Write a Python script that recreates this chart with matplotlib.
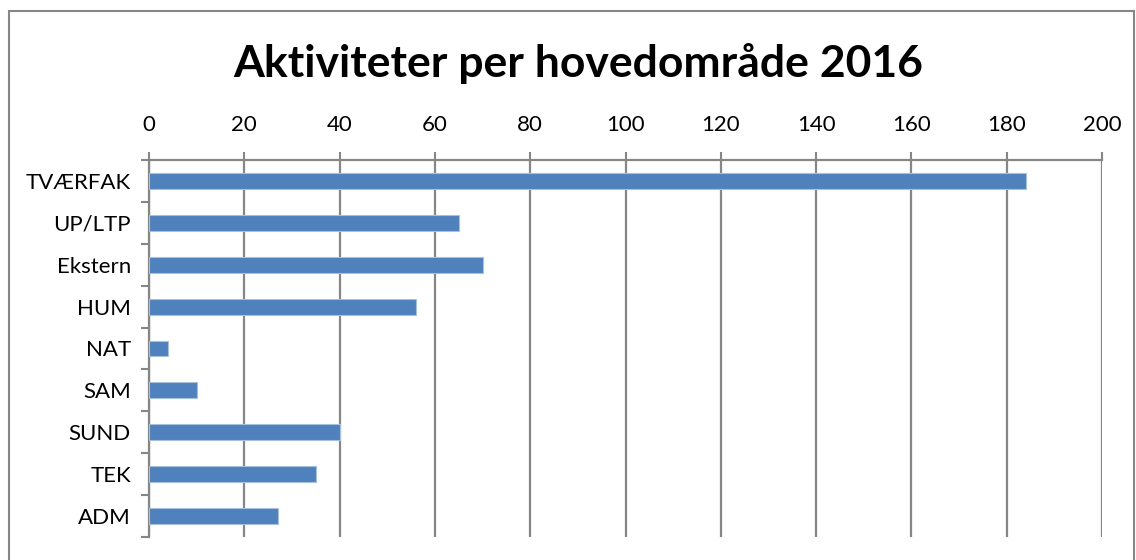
import numpy as np
import matplotlib.pyplot as plt
from matplotlib.patches import Rectangle

categories = ["TVÆRFAK", "UP/LTP", "Ekstern", "HUM", "NAT", "SAM", "SUND", "TEK", "ADM"]
values = [184, 65, 70, 56, 4, 10, 40, 35, 27]
xticks = [0, 20, 40, 60, 80, 100, 120, 140, 160, 180, 200]

plt.rcParams['font.family'] = ['Lato', 'DejaVu Sans']
grey = "#868686"

fig = plt.figure(figsize=(11.36, 5.6), dpi=100)
ax = fig.add_axes([149/1136, 1-537/560, (1102-149)/1136, (537-160)/560])

y = np.arange(len(categories))
ax.barh(y, values, height=0.38, color="#4F81BD", edgecolor="#A7C0DE", linewidth=0.8, zorder=3)
ax.set_ylim(len(categories)-0.5, -0.5)
ax.set_xlim(0, 200)

ax.xaxis.tick_top()
ax.set_xticks(xticks)
ax.set_xticklabels([str(t) for t in xticks], fontsize=16)
ax.tick_params(axis="x", length=6, width=1.5, color=grey, pad=12)
ax.grid(axis="x", color=grey, linewidth=1.6, zorder=0)

ax.set_yticks(y)
ax.set_yticklabels(categories, fontsize=16)
ax.set_yticks(np.arange(len(categories)+1)-0.5, minor=True)
ax.tick_params(axis="y", which="major", length=0, pad=13)
ax.tick_params(axis="y", which="minor", length=6, width=1.5, color=grey)

for s in ["right", "bottom"]:
    ax.spines[s].set_visible(False)
for s in ["top", "left"]:
    ax.spines[s].set_color(grey)
    ax.spines[s].set_linewidth(1.6)

fig.text(578/1136, 1-63/560, "Aktiviteter per hovedområde 2016", ha="center", va="center",
         fontsize=32, fontweight="bold")

fig.patches.append(Rectangle((9/1136, -0.05), (1134-9)/1136, 1.05-11/560, transform=fig.transFigure,
                             fill=False, edgecolor=grey, linewidth=1.5))

fig.savefig("out.png", dpi=100)
